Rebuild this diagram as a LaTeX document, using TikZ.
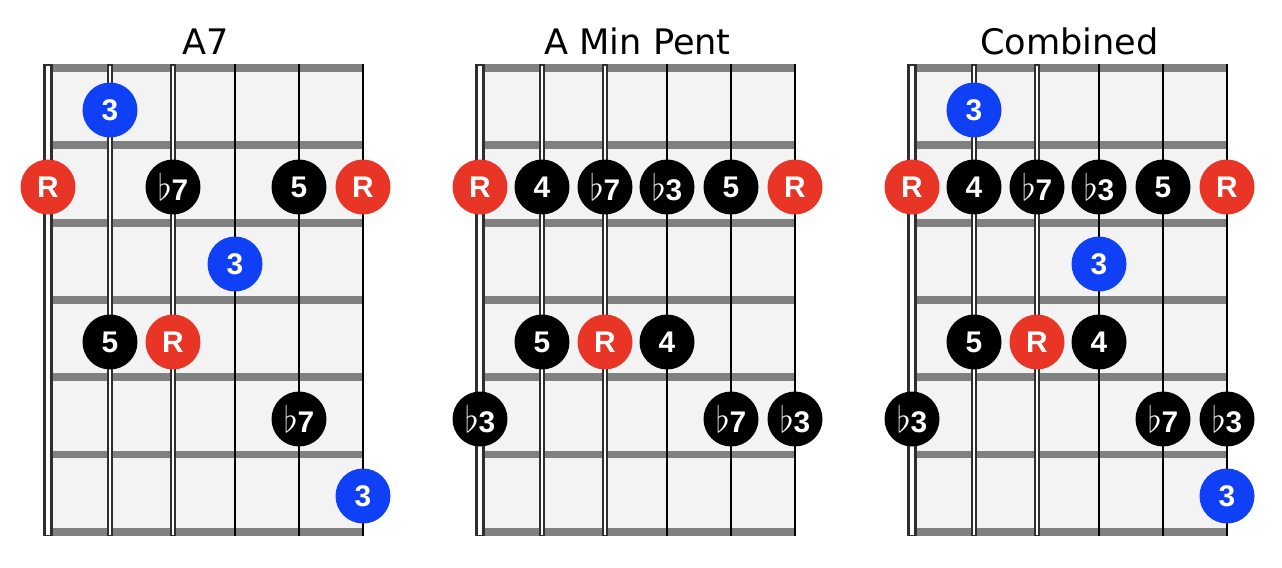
\documentclass[tikz,border=0pt]{standalone}
\usepackage{fontspec}
\setmainfont{Liberation Sans}
\newfontfamily\headfont{DejaVu Sans}
\usepackage{tikz}

\definecolor{fretgray}{HTML}{808080}
\definecolor{boardbg}{HTML}{F3F3F3}
\definecolor{rootred}{HTML}{E93526}
\definecolor{thirdblue}{HTML}{1040F5}
\definecolor{wirecol}{HTML}{2E2E2E}

\newcommand{\flatmark}{{\fontsize{21}{21}\selectfont$\flat$}}

\begin{document}
\begin{tikzpicture}[x=0.02cm,y=-0.02cm,
  note/.style={circle,minimum size=1.1cm,inner sep=0pt,text=white,font=\bfseries\fontsize{17}{17}\selectfont},
  root/.style={note,fill=rootred},
  third/.style={note,fill=thirdblue},
  other/.style={note,fill=black},
  fret/.style={fretgray,line width=4.5pt},
  title/.style={font=\headfont\fontsize{20}{20}\selectfont,anchor=base}]
  \useasboundingbox (0,0) rectangle (1282,568);
  % the three boards
  \foreach \ox/\name in {0/A7,432/A Min Pent,864/Combined} {
    \fill[boardbg] (\ox+53,68) rectangle (\ox+363,532);
    \foreach \fy in {68,145.3,222.6,299.9,377.2,454.5,531.8}
      \draw[fret] (\ox+53,\fy) -- (\ox+363,\fy);
    \foreach \sx/\ow/\iw in {48/5.3/2.7,110/3.8/1.4,173/2.9/1.1} {
      \draw[wirecol,line width=\ow pt] (\ox+\sx,64) -- (\ox+\sx,536);
      \draw[white,line width=\iw pt] (\ox+\sx,65.5) -- (\ox+\sx,534.5);
    }
    \foreach \sx in {235,299,363}
      \draw[black,line width=1.2pt] (\ox+\sx,64) -- (\ox+\sx,536);
    \node[title] (title\ox) at (\ox+205.5,54) {\name};
  }
  % A7
  \node[third] (sevA) at (110,110) {3};
  \node[root]  (sevB) at (48,187) {R};
  \node[other] (sevC) at (173,187) {\flatmark7};
  \node[other] (sevD) at (299,187) {5};
  \node[root]  (sevE) at (363,187) {R};
  \node[third] (sevF) at (235,264) {3};
  \node[other] (sevG) at (110,342) {5};
  \node[root]  (sevH) at (173,342) {R};
  \node[other] (sevI) at (299,419) {\flatmark7};
  \node[third] (sevJ) at (363,496) {3};
  % A Min Pent
  \node[root]  (penA) at (480,187) {R};
  \node[other] (penB) at (542,187) {4};
  \node[other] (penC) at (605,187) {\flatmark7};
  \node[other] (penD) at (667,187) {\flatmark3};
  \node[other] (penE) at (731,187) {5};
  \node[root]  (penF) at (795,187) {R};
  \node[other] (penG) at (542,342) {5};
  \node[root]  (penH) at (605,342) {R};
  \node[other] (penI) at (667,342) {4};
  \node[other] (penJ) at (480,419) {\flatmark3};
  \node[other] (penK) at (731,419) {\flatmark7};
  \node[other] (penL) at (795,419) {\flatmark3};
  % Combined
  \node[third] (comA) at (974,110) {3};
  \node[root]  (comB) at (912,187) {R};
  \node[other] (comC) at (974,187) {4};
  \node[other] (comD) at (1037,187) {\flatmark7};
  \node[other] (comE) at (1099,187) {\flatmark3};
  \node[other] (comF) at (1163,187) {5};
  \node[root]  (comG) at (1227,187) {R};
  \node[third] (comH) at (1099,264) {3};
  \node[other] (comI) at (974,342) {5};
  \node[root]  (comJ) at (1037,342) {R};
  \node[other] (comK) at (1099,342) {4};
  \node[other] (comL) at (912,419) {\flatmark3};
  \node[other] (comM) at (1163,419) {\flatmark7};
  \node[other] (comN) at (1227,419) {\flatmark3};
  \node[third] (comO) at (1227,496) {3};
\end{tikzpicture}
\end{document}
